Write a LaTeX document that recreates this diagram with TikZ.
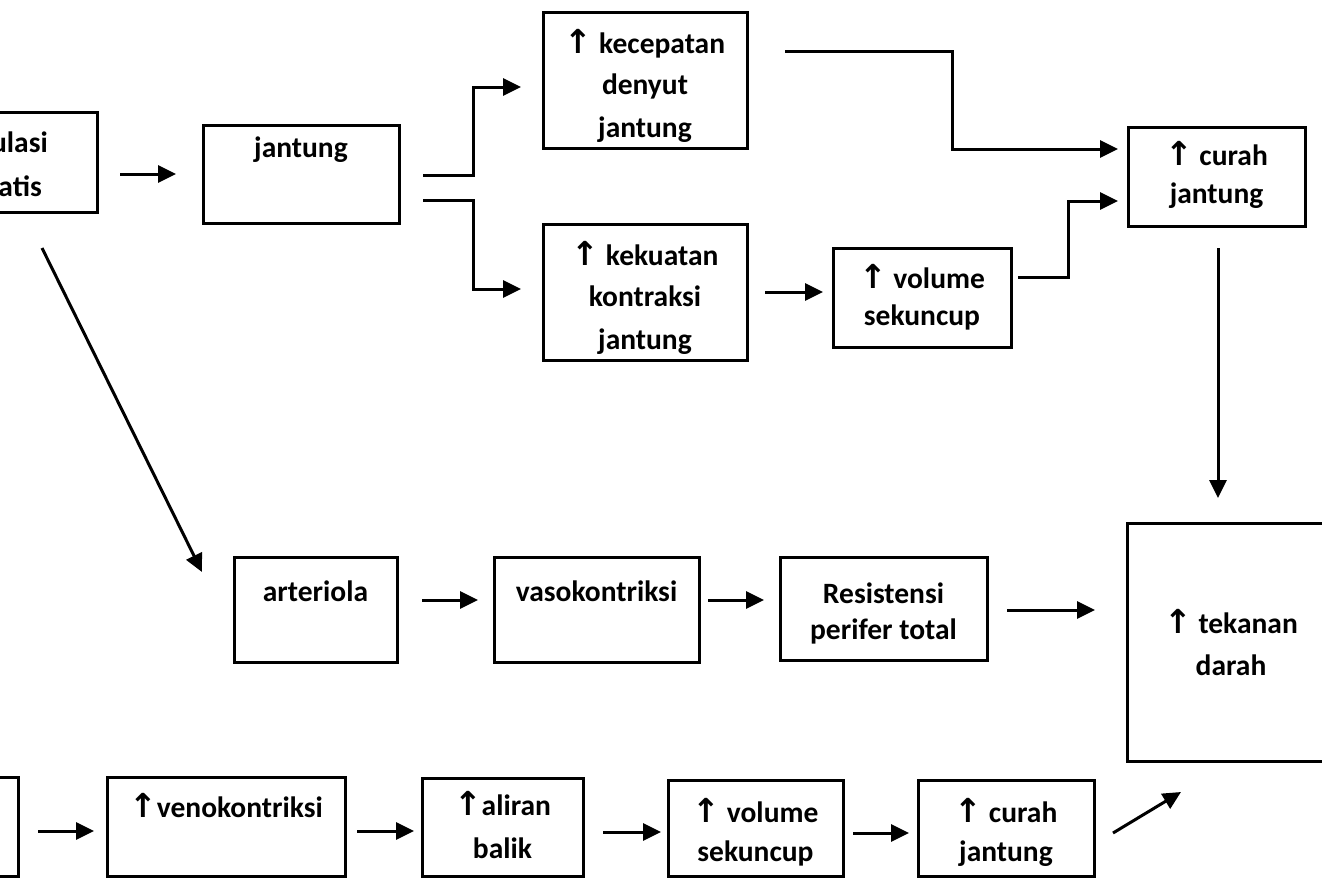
\documentclass[tikz,border=0pt]{standalone}
\usepackage{fontspec}
\setmainfont{Carlito}
\newfontfamily\arrowfont{DejaVu Sans}
\usetikzlibrary{arrows.meta}
\newcommand\upar{{\arrowfont\fontsize{33}{34}\selectfont ↑}}
\tikzset{
  box/.style={draw, line width=3pt, inner sep=0pt, fill=white},
  lbl/.style={inner sep=0pt, anchor=base, font=\fontsize{29.5}{34}\selectfont\bfseries},
  conn/.style={line width=3pt},
  arr/.style={line width=3pt, -{Triangle[length=18pt,width=17pt]}},
}
\begin{document}
\begin{tikzpicture}[x=1pt,y=-1pt]
\useasboundingbox (0,0) rectangle (1322,878);
\clip (0,0) rectangle (1322,878);
\fill[white] (0,0) rectangle (1322,878);
% boxes
\node[box, minimum width=197pt, minimum height=100pt] (stim) at (-1.5,162) {};
\node[box, minimum width=196pt, minimum height=98pt] (jant) at (301,174) {};
\node[box, minimum width=204pt, minimum height=136pt] (kec) at (645,80) {};
\node[box, minimum width=204pt, minimum height=136pt] (kek) at (645,292) {};
\node[box, minimum width=178pt, minimum height=99pt] (vol1) at (922,297.5) {};
\node[box, minimum width=177pt, minimum height=99pt] (cur1) at (1216.5,176.5) {};
\node[box, minimum width=208pt, minimum height=238pt] (tek) at (1231,642) {};
\node[box, minimum width=163pt, minimum height=105pt] (art) at (315.5,609.5) {};
\node[box, minimum width=205pt, minimum height=105pt] (vaso) at (596.5,609.5) {};
\node[box, minimum width=207pt, minimum height=103pt] (res) at (883.5,608.5) {};
\node[box, minimum width=118pt, minimum height=99pt] (left2) at (-41,826.5) {};
\node[box, minimum width=238pt, minimum height=99pt] (veno) at (226,826.5) {};
\node[box, minimum width=161pt, minimum height=98pt] (ali) at (502.5,827) {};
\node[box, minimum width=175pt, minimum height=96pt] (vol2) at (755.5,828) {};
\node[box, minimum width=176pt, minimum height=96pt] (cur2) at (1006,828) {};
% texts
\node[lbl, anchor=base east] (stimA) at (48,152) {Stimulasi};
\node[lbl, anchor=base east] (stimB) at (42,196) {simpatis};
\node[lbl] (jantA) at (301,157) {jantung};
\node[lbl] (kecA) at (645,53) {\upar\ kecepatan};
\node[lbl] (kecB) at (645,94) {denyut};
\node[lbl] (kecC) at (645,137) {jantung};
\node[lbl] (kekA) at (645,265) {\upar\ kekuatan};
\node[lbl] (kekB) at (645,306) {kontraksi};
\node[lbl] (kekC) at (645,349) {jantung};
\node[lbl] (vol1A) at (922,288) {\upar\ volume};
\node[lbl] (vol1B) at (922,325) {sekuncup};
\node[lbl] (cur1A) at (1216.5,165) {\upar\ curah};
\node[lbl] (cur1B) at (1216.5,203) {jantung};
\node[lbl] (tekA) at (1231,633) {\upar\ tekanan};
\node[lbl] (tekB) at (1231,675) {darah};
\node[lbl] (artA) at (315.5,601) {arteriola};
\node[lbl] (vasoA) at (596.5,601) {vasokontriksi};
\node[lbl] (resA) at (883.5,603) {Resistensi};
\node[lbl] (resB) at (883.5,639) {perifer total};
\node[lbl] (venoA) at (226,817) {\upar venokontriksi};
\node[lbl] (aliA) at (502.5,815) {\upar aliran};
\node[lbl] (aliB) at (502.5,858) {balik};
\node[lbl] (vol2A) at (755.5,822) {\upar\ volume};
\node[lbl] (vol2B) at (755.5,861) {sekuncup};
\node[lbl] (cur2A) at (1006,822) {\upar\ curah};
\node[lbl] (cur2B) at (1006,861) {jantung};
% connector end points
\coordinate (a1s) at (120,174);   \coordinate (a1e) at (176,174);
\coordinate (dgs) at (42,248);    \coordinate (dge) at (202,572);
\coordinate (b1s) at (423,175);   \coordinate (b1e) at (521,87);
\coordinate (b2s) at (423,200);   \coordinate (b2e) at (521,289);
\coordinate (c1s) at (785,51);    \coordinate (c1e) at (1118,149);
\coordinate (c2s) at (765,292);   \coordinate (c2e) at (823,292);
\coordinate (c3s) at (1018,277);  \coordinate (c3e) at (1118,201);
\coordinate (d1s) at (1218,248);  \coordinate (d1e) at (1218,498);
\coordinate (m1s) at (422,600);   \coordinate (m1e) at (478,600);
\coordinate (m2s) at (708,600);   \coordinate (m2e) at (764,600);
\coordinate (m3s) at (1007,610);  \coordinate (m3e) at (1095,610);
\coordinate (e1s) at (38,831);    \coordinate (e1e) at (94,831);
\coordinate (e2s) at (357,831);   \coordinate (e2e) at (414,831);
\coordinate (e3s) at (603,832);   \coordinate (e3e) at (661,832);
\coordinate (e4s) at (853,833);   \coordinate (e4e) at (909,833);
\coordinate (e5s) at (1113,833);  \coordinate (e5e) at (1181,792);
% connectors
\draw[arr] (a1s) -- (a1e);
\draw[arr] (dgs) -- (dge);
\draw[arr] (b1s) -- (473,175) -- (473,87) -- (b1e);
\draw[arr] (b2s) -- (473,200) -- (473,289) -- (b2e);
\draw[arr] (c1s) -- (952,51) -- (952,149) -- (c1e);
\draw[arr] (c2s) -- (c2e);
\draw[arr] (c3s) -- (1068,277) -- (1068,201) -- (c3e);
\draw[arr] (d1s) -- (d1e);
\draw[arr] (m1s) -- (m1e);
\draw[arr] (m2s) -- (m2e);
\draw[arr] (m3s) -- (m3e);
\draw[arr] (e1s) -- (e1e);
\draw[arr] (e2s) -- (e2e);
\draw[arr] (e3s) -- (e3e);
\draw[arr] (e4s) -- (e4e);
\draw[arr] (e5s) -- (e5e);
\end{tikzpicture}
\end{document}
